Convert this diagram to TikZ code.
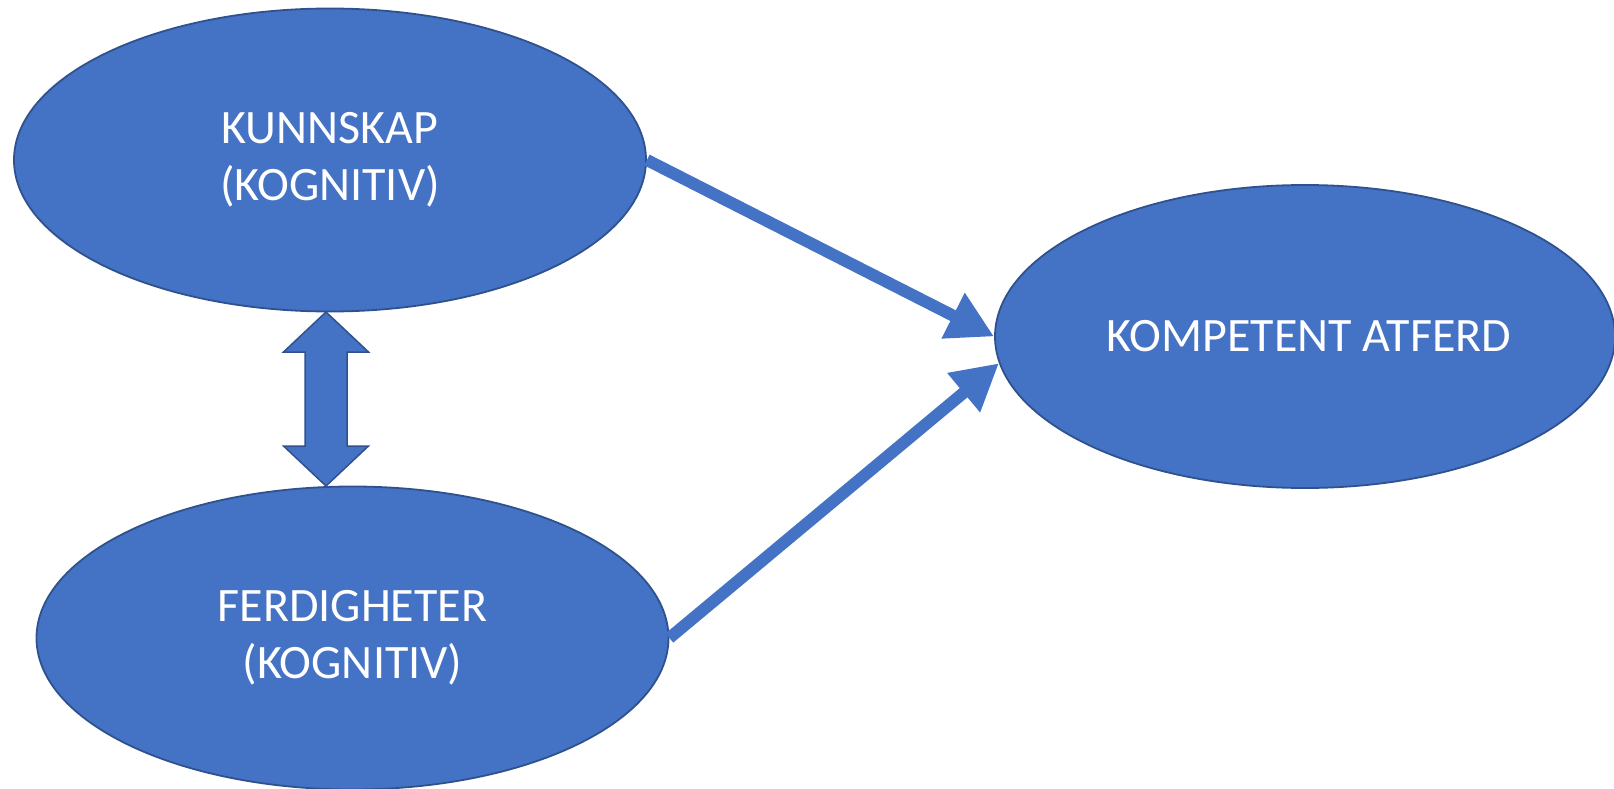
\documentclass[tikz,border=0pt]{standalone}
\usepackage{fontspec}
\setmainfont{Carlito}
\usetikzlibrary{arrows.meta,shapes.geometric,calc}
\definecolor{bfill}{HTML}{4472C4}
\definecolor{bline}{HTML}{2F528F}
\begin{document}
\begin{tikzpicture}[x=1pt,y=-1pt,
  oval/.style={ellipse,fill=bfill,draw=bline,line width=1.8pt,inner sep=0pt,
    minimum width=632pt,minimum height=303pt,text=white,align=center,
    font=\fontsize{48}{57}\selectfont},
  conn/.style={draw=bfill,line width=12pt,-{Triangle[length=46pt,width=48pt]}},
  dbl/.style={fill=bfill,draw=bline,line width=1.5pt,line join=miter}]
\useasboundingbox (0,0) rectangle (1614,789);
\node[oval] (kunn) at (330,160) {KUNNSKAP\\(KOGNITIV)};
\node[oval] (ferd) at (352.5,638) {FERDIGHETER\\(KOGNITIV)};
\node[oval,minimum width=620pt] (komp) at (1305,336.5) {\hspace*{8pt}KOMPETENT ATFERD};
\draw[conn] (kunn.east) -- (komp.west);
\draw[conn] (ferd.east) -- (komp.185);
\coordinate (dt) at (326,312);
\coordinate (db) at (326,486);
\draw[dbl] (dt) -- ++(42.5,40) -- ++(-21.5,0) -- ++(0,94) -- ++(21.5,0) -- (db)
  -- ++(-42.5,-40) -- ++(21.5,0) -- ++(0,-94) -- ++(-21.5,0) -- cycle;
\end{tikzpicture}
\end{document}
